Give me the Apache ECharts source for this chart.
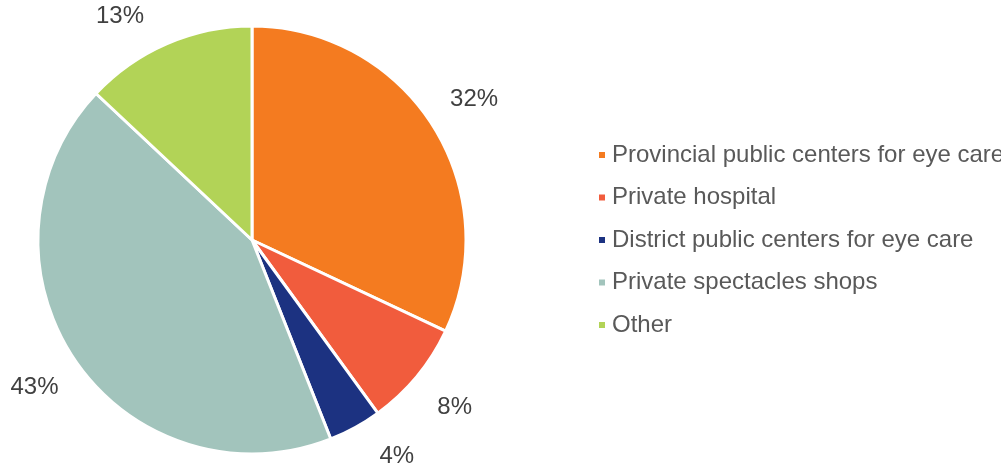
<!DOCTYPE html>
<html>
<head>
<meta charset="utf-8">
<script src="https://cdn.jsdelivr.net/npm/echarts@6/dist/echarts.min.js"></script>
<style>
  html, body { margin: 0; padding: 0; background: #fff; }
  #chart { width: 1001px; height: 466px; }
</style>
</head>
<body>
<div id="chart"></div>
<script>
// Where people get eye care, share of respondents (%)
const categories = [
  'Provincial public centers for eye care',
  'Private hospital',
  'District public centers for eye care',
  'Private spectacles shops',
  'Other'
];
const shares = [32, 8, 4, 43, 13];
const colors = ['#F47B20', '#F15C3D', '#1C3281', '#A2C4BC', '#B2D357'];

const CX = 252, CY = 240, R = 214;
const LABEL_R = 260;            // distance of percentage labels from the centre
const LABEL_MIN_Y = 16, LABEL_MAX_Y = 456;  // keep labels inside the canvas

const pieData = categories.map((name, i) => ({ name, value: shares[i], itemStyle: { color: colors[i] } }));

const chart = echarts.init(document.getElementById('chart'), null, { renderer: 'canvas' });
chart.setOption({
  animation: false,
  backgroundColor: '#ffffff',
  legend: {
    orient: 'vertical',
    left: 597,
    top: 143,
    padding: 0,
    icon: 'rect',
    itemWidth: 8,
    itemHeight: 8,
    itemGap: 18.5,
    selectedMode: false,
    data: categories,
    textStyle: {
      fontFamily: 'Liberation Sans, Arial, sans-serif',
      fontSize: 24,
      lineHeight: 24,
      color: '#595959',
      padding: [0, 0, 0, 1]
    }
  },
  series: [
    {
      type: 'pie',
      center: [CX, CY],
      radius: [0, R],
      startAngle: 90,
      clockwise: true,
      silent: true,
      label: { show: false },
      labelLine: { show: false },
      itemStyle: { borderColor: '#ffffff', borderWidth: 3 },
      data: pieData
    },
    {
      // transparent ring that carries the percentage labels around the pie
      type: 'pie',
      center: [CX, CY],
      radius: [R, 2 * LABEL_R - R],
      startAngle: 90,
      clockwise: true,
      silent: true,
      itemStyle: { color: 'rgba(0,0,0,0)' },
      labelLine: { show: false },
      label: {
        show: true,
        position: 'inside',
        formatter: '{c}%',
        fontFamily: 'Liberation Sans, Arial, sans-serif',
        fontSize: 24,
        color: '#404040'
      },
      // slide labels that would leave the canvas back along the label circle
      labelLayout: function (params) {
        const r = params.labelRect;
        let x = r.x + r.width / 2;
        let y = r.y + r.height / 2;
        if (y < LABEL_MIN_Y || y > LABEL_MAX_Y) {
          y = Math.min(LABEL_MAX_Y, Math.max(LABEL_MIN_Y, y));
          const dy = y - CY;
          const dx = Math.sqrt(Math.max(0, LABEL_R * LABEL_R - dy * dy));
          x = CX + (x < CX ? -dx : dx);
        }
        return { x: x, y: y, align: 'center', verticalAlign: 'middle' };
      },
      data: categories.map((name, i) => ({ name, value: shares[i] }))
    }
  ]
});
</script>
</body>
</html>
